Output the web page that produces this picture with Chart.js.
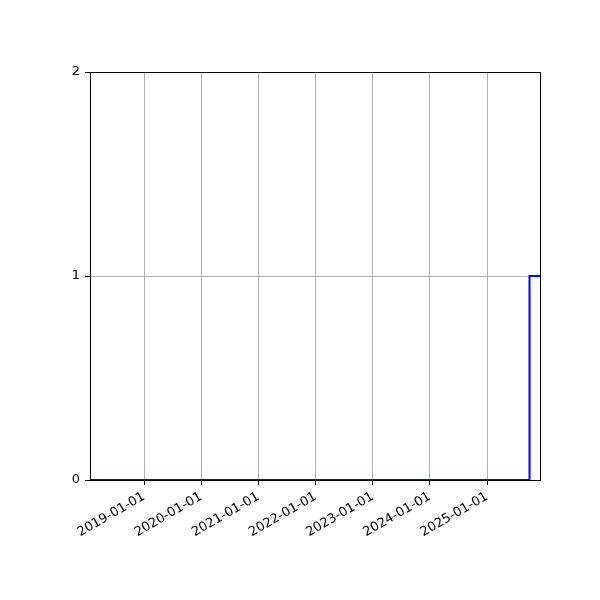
<!DOCTYPE html>
<html lang="en">
<head>
    <meta charset="UTF-8">
    <title>Step chart</title>
    <script src="https://cdn.jsdelivr.net/npm/chart.js"></script>
    <style>
        body { margin: 0; background: #fff; }
        canvas { display: block; }
    </style>
</head>
<body>
<canvas id="grafico" width="600" height="600"></canvas>
<script>
    // data
    const datas = ['2018-01-21', '2025-09-29', '2025-12-05'];
    const valores = [0, 1, 1];
    const tickDatas = ['2019-01-01', '2020-01-01', '2021-01-01', '2022-01-01', '2023-01-01', '2024-01-01', '2025-01-01'];
    const yTicks = [0, 1, 2];

    const ms = s => Date.parse(s + 'T00:00:00Z');

    // frame on all four sides, like matplotlib
    const moldura = {
        id: 'moldura',
        afterDatasetsDraw(chart) {
            const a = chart.chartArea, ctx = chart.ctx;
            ctx.save();
            ctx.strokeStyle = '#000';
            ctx.lineWidth = 1;
            ctx.strokeRect(Math.round(a.left) + 0.5, Math.round(a.top) + 0.5,
                Math.round(a.right - a.left), Math.round(a.bottom - a.top));
            ctx.restore();
        }
    };

    new Chart(document.getElementById('grafico'), {
        type: 'line',
        data: {
            datasets: [{
                data: datas.map((d, i) => ({ x: ms(d), y: valores[i] })),
                borderColor: '#0000ff',
                borderWidth: 2,
                stepped: true,
                pointRadius: 0,
                fill: false
            }]
        },
        options: {
            responsive: false,
            animation: false,
            layout: { padding: { left: 0, top: 72, right: 60, bottom: 0 } },
            plugins: { legend: { display: false }, tooltip: { enabled: false } },
            scales: {
                x: {
                    type: 'linear',
                    min: ms('2018-01-21'),
                    max: ms('2025-12-05'),
                    afterBuildTicks: s => { s.ticks = tickDatas.map(d => ({ value: ms(d) })); },
                    afterFit: s => { s.height = 120; },
                    ticks: {
                        autoSkip: false,
                        minRotation: 30,
                        maxRotation: 30,
                        color: '#000',
                        font: { family: 'DejaVu Sans', size: 13 },
                        padding: 4,
                        callback: (v, i) => tickDatas[i]
                    },
                    grid: { color: '#b0b0b0', lineWidth: 1, tickColor: '#000', tickLength: 5 },
                    border: { color: '#000', width: 1 }
                },
                y: {
                    min: 0,
                    max: 2,
                    afterBuildTicks: s => { s.ticks = yTicks.map(v => ({ value: v })); },
                    afterFit: s => { s.width = 90; },
                    ticks: {
                        color: '#000',
                        font: { family: 'DejaVu Sans', size: 13 },
                        padding: 5,
                        callback: v => String(v)
                    },
                    grid: { color: '#b0b0b0', lineWidth: 1, tickColor: '#000', tickLength: 5 },
                    border: { color: '#000', width: 1 }
                }
            }
        },
        plugins: [moldura]
    });
</script>
</body>
</html>
